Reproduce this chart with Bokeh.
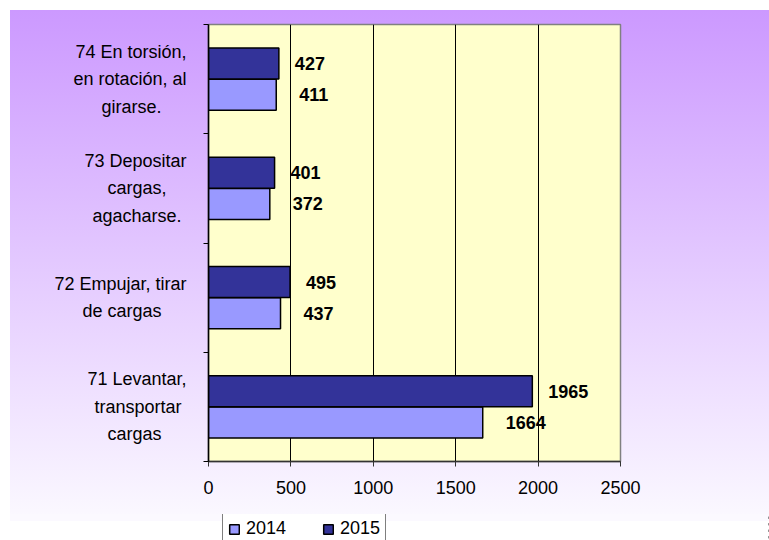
from bokeh.plotting import figure
from bokeh.layouts import column
from bokeh.models import (FactorRange, Range1d, LinearAxis, CategoricalAxis, FixedTicker,
                          ColumnDataSource, Legend, LegendItem)
from bokeh.transform import dodge
from bokeh.core.properties import value
from bokeh.embed import file_html
from bokeh.resources import INLINE

NB = "\u00a0"  # non-breaking space, used to centre the wrapped lines of each label

# ---- data ----
categories = [
    "71 Levantar,\ntransportar" + NB + "\ncargas" + NB * 5,
    "72 Empujar, tirar\nde cargas" + NB * 5,
    "73 Depositar\ncargas," + NB * 4 + "\nagacharse." + NB,
    "74 En torsión,\nen rotación, al\ngirarse." + NB * 5,
]
values_2014 = [1664, 437, 372, 411]
values_2015 = [1965, 495, 401, 427]
x_ticks = [0, 500, 1000, 1500, 2000, 2500]
series_names = ["2014", "2015"]

FONT = "Liberation Sans"
FS = "18px"
C14 = "#9999FF"
C15 = "#333399"

src = ColumnDataSource(dict(
    cat=categories,
    v2014=values_2014,
    v2015=values_2015,
    t2014=[str(v) for v in values_2014],
    t2015=[str(v) for v in values_2015],
))

p = figure(
    y_range=FactorRange(factors=categories, range_padding=0),
    x_range=Range1d(0, 2500),
    frame_width=412, frame_height=437,
    min_border_left=208, min_border_right=149,
    min_border_top=24, min_border_bottom=53,
    output_backend="svg", toolbar_location=None,
    y_axis_location=None,
    background_fill_color="#FFFFCC",
    border_fill_color=None,
    outline_line_color="#808080", outline_line_width=1.5,
)
p.styles = {
    "background": "linear-gradient(to right, #ffffff 10px, transparent 10px), "
                  "linear-gradient(to bottom, #ffffff 10px, #CC99FF 10px, #FBF9FF 521px, #ffffff 521px)"
}
for g in p.ygrid:
    g.grid_line_color = None

# x axis
xa = p.xaxis[0]
xa.ticker = FixedTicker(ticks=x_ticks)
xa.axis_line_color = "#333333"
xa.axis_line_width = 1.5
xa.major_tick_out = 5
xa.major_tick_in = 0
xa.major_tick_line_color = "#333333"
xa.minor_tick_line_color = None
xa.major_label_text_font = FONT
xa.major_label_text_font_size = FS
xa.major_label_text_color = "black"
xa.major_label_standoff = 14

p.xgrid.ticker = FixedTicker(ticks=x_ticks)
p.xgrid.grid_line_color = "black"
p.xgrid.grid_line_width = 1

# left: boundary ticks (between categories) + category labels axis
ba = LinearAxis(
    ticker=FixedTicker(ticks=list(range(len(categories) + 1))),
    major_label_text_font_size="0px", major_label_text_alpha=0,
    major_label_standoff=0,
    axis_line_color="black", axis_line_width=1.5,
    major_tick_out=5, major_tick_in=0, major_tick_line_color="black",
    minor_tick_line_color=None,
)
p.add_layout(ba, "left")

ca = CategoricalAxis(
    axis_line_color=None, major_tick_line_color=None,
    major_tick_out=0, major_tick_in=0,
    major_label_standoff=17,
    major_label_text_font=FONT,
    major_label_text_font_size=FS,
    major_label_text_line_height=1.38,
    major_label_text_color="black",
)
p.add_layout(ca, "left")

# bars
off = 0.143
bh = 0.285
p.hbar(y=dodge("cat", -off, range=p.y_range), left=0, right="v2014", height=bh,
       source=src, fill_color=C14, line_color="black", line_width=1.5)
p.hbar(y=dodge("cat", off, range=p.y_range), left=0, right="v2015", height=bh,
       source=src, fill_color=C15, line_color="black", line_width=1.5)

# value labels
p.text(x="v2014", y=dodge("cat", -off, range=p.y_range), text="t2014", source=src,
       x_offset=23, text_baseline="middle", text_align="left",
       text_font=value(FONT), text_font_style="bold", text_font_size=FS, text_color="black")
p.text(x="v2015", y=dodge("cat", off, range=p.y_range), text="t2015", source=src,
       x_offset=16, text_baseline="middle", text_align="left",
       text_font=value(FONT), text_font_style="bold", text_font_size=FS, text_color="black")

# ---- legend strip (separate small figure below the chart, frame aligned with the chart) ----
p2 = figure(
    y_range=FactorRange(factors=categories),
    x_range=Range1d(-2, -1),          # keeps the series bars out of view; only the legend shows
    frame_width=561, frame_height=26,
    min_border_left=208, min_border_right=0, min_border_top=0, min_border_bottom=0,
    output_backend="svg", toolbar_location=None,
    x_axis_location=None, y_axis_location=None,
    background_fill_color=None, border_fill_color=None, outline_line_color=None,
)
p2.styles = {
    "background": "linear-gradient(to right, #ffffff 10px, transparent 10px), "
                  "linear-gradient(to bottom, #FBF9FF 7px, #ffffff 7px)"
}
for g in list(p2.xgrid) + list(p2.ygrid):
    g.visible = False

l14 = p2.hbar(y="cat", left=0, right="v2014", height=0.3, source=src,
              fill_color=C14, line_color="black", line_width=1.5)
l15 = p2.hbar(y="cat", left=0, right="v2015", height=0.3, source=src,
              fill_color=C15, line_color="black", line_width=1.5)

legend = Legend(
    items=[LegendItem(label=series_names[0], renderers=[l14]),
           LegendItem(label=series_names[1], renderers=[l15])],
    orientation="horizontal", location=(14, -5),
    label_text_font=FONT, label_text_font_size=FS, label_text_color="black",
    glyph_width=12, glyph_height=12, label_standoff=6, spacing=36,
    padding=5, margin=0,
    border_line_color="black", border_line_width=1,
    background_fill_color="white", background_fill_alpha=1,
)
p2.add_layout(legend)

layout = column(p, p2, spacing=0)

open("out.html", "w").write(file_html(layout, INLINE))
